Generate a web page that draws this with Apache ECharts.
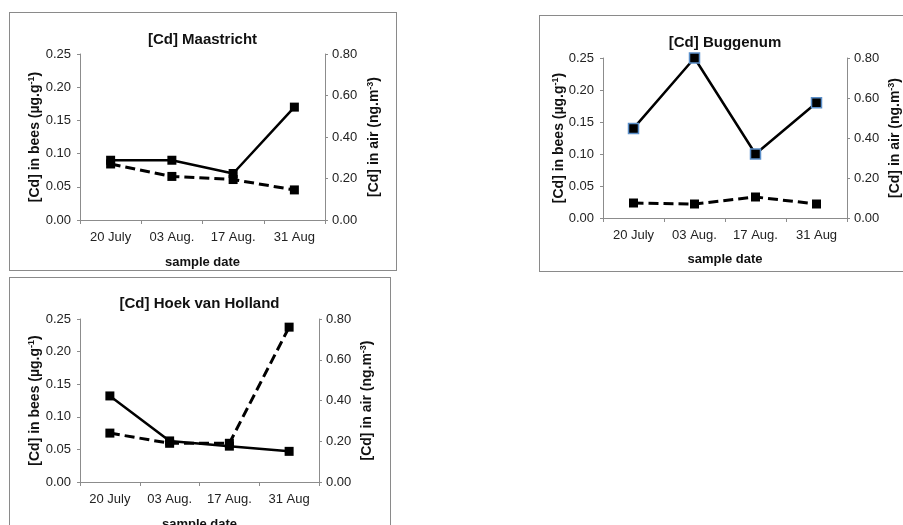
<!DOCTYPE html>
<html>
<head>
<meta charset="utf-8">
<script src="https://cdn.jsdelivr.net/npm/echarts@6/dist/echarts.min.js"></script>
<style>
  body { margin:0; background:#fff; width:903px; height:525px; position:relative; overflow:hidden; }
  .panel { position:absolute; border:1.5px solid #8a8a8a; box-sizing:border-box; background:#fff; }
</style>
</head>
<body>
<div class="panel" id="p1" style="left:9px;top:12px;width:388px;height:259px"></div>
<div class="panel" id="p2" style="left:539px;top:15px;width:366px;height:257px"></div>
<div class="panel" id="p3" style="left:9px;top:277px;width:382px;height:252px"></div>
<script>
// sample dates on the x axis
var dates = ['20 July', '03 Aug.', '17 Aug.', '31 Aug'];

// [Cd] in bees (left axis), [Cd] in air (right axis)
var maastrichtBees = [0.09, 0.09, 0.07, 0.17];
var maastrichtAir = [0.27, 0.21, 0.195, 0.145];
var buggenumBees = [0.14, 0.25, 0.10, 0.18];
var buggenumAir = [0.075, 0.07, 0.105, 0.07];
var hoekBees = [0.132, 0.063, 0.055, 0.047];
var hoekAir = [0.24, 0.19, 0.19, 0.76];

// axis ranges
var beesAxis = [0, 0.25, 0.05];
var airAxis = [0, 0.80, 0.20];

var font = "'Liberation Sans', Arial";
var axisGray = '#8c8c8c';

function makePanel(id, title, bees, air, g, blueEdge) {
    var chart = echarts.init(document.getElementById(id));
    var cx = g.left + g.width / 2;
    var rich = {
        a: { fontFamily: font, fontSize: 14, fontWeight: 'bold', color: '#111', lineHeight: 16 },
        s: { fontFamily: font, fontSize: 9, fontWeight: 'bold', color: '#111', lineHeight: 16, verticalAlign: 'top' }
    };
    var option = {
        animation: false,
        textStyle: { fontFamily: font },
        title: {
            text: title,
            left: cx, top: g.titleTop, textAlign: 'center', padding: 0,
            textStyle: { fontFamily: font, fontSize: 15, fontWeight: 'bold', color: '#111' }
        },
        grid: { left: g.left, top: g.top, width: g.width, height: g.height, containLabel: false, outerBoundsMode: 'none' },
        xAxis: {
            type: 'category',
            data: dates,
            boundaryGap: true,
            name: 'sample date',
            nameLocation: 'middle',
            nameGap: g.xNameGap,
            nameMoveOverlap: false,
            nameTextStyle: { fontFamily: font, fontSize: 13, fontWeight: 'bold', color: '#111' },
            axisLine: { lineStyle: { color: axisGray, width: 1 } },
            axisTick: { show: true, length: 4, lineStyle: { color: axisGray } },
            axisLabel: { margin: 11, fontSize: 13, color: '#222', interval: 0 },
            splitLine: { show: false }
        },
        yAxis: [
            {
                type: 'value', position: 'left',
                min: beesAxis[0], max: beesAxis[1], interval: beesAxis[2],
                name: '{a|[Cd] in bees (µg.g}{s|-1}{a|)}',
                nameLocation: 'middle', nameRotate: 90, nameGap: g.lNameGap,
                nameMoveOverlap: false,
                nameTextStyle: { rich: rich },
                axisLine: { show: true, lineStyle: { color: axisGray, width: 1 } },
                axisTick: { show: true, length: 3, lineStyle: { color: axisGray } },
                axisLabel: { margin: 9, fontSize: 13, color: '#222', formatter: function (v) { return v.toFixed(2); } },
                splitLine: { show: false }
            },
            {
                type: 'value', position: 'right',
                min: airAxis[0], max: airAxis[1], interval: airAxis[2],
                name: '{a|[Cd] in air (ng.m}{s|-3}{a|)}',
                nameLocation: 'middle', nameRotate: 90, nameGap: g.rNameGap,
                nameMoveOverlap: false,
                nameTextStyle: { rich: rich },
                axisLine: { show: true, lineStyle: { color: axisGray, width: 1 } },
                axisTick: { show: true, length: 3, lineStyle: { color: axisGray } },
                axisLabel: { margin: 7, fontSize: 13, color: '#222', formatter: function (v) { return v.toFixed(2); } },
                splitLine: { show: false }
            }
        ],
        series: [
            {
                name: 'bees', type: 'line', yAxisIndex: 0, data: bees,
                symbol: 'rect', symbolSize: blueEdge ? 10 : 9,
                lineStyle: { color: '#000', width: 2.5 },
                itemStyle: { color: '#000', borderColor: blueEdge ? '#5b8fc9' : '#000', borderWidth: blueEdge ? 1.5 : 0 },
                z: 3
            },
            {
                name: 'air', type: 'line', yAxisIndex: 1, data: air,
                symbol: 'rect', symbolSize: 9,
                lineStyle: { color: '#000', width: 3, type: [10, 5] },
                itemStyle: { color: '#000' },
                z: 2
            }
        ]
    };
    option && chart.setOption(option);
}

makePanel('p1', '[Cd] Maastricht', maastrichtBees, maastrichtAir,
    { left: 70, top: 41, width: 245, height: 166, titleTop: 19, xNameGap: 36, lNameGap: 37, rNameGap: 41 }, false);
makePanel('p2', '[Cd] Buggenum', buggenumBees, buggenumAir,
    { left: 63, top: 42, width: 244, height: 160, titleTop: 19, xNameGap: 35, lNameGap: 36, rNameGap: 40 }, true);
makePanel('p3', '[Cd] Hoek van Holland', hoekBees, hoekAir,
    { left: 70, top: 41, width: 239, height: 163, titleTop: 18, xNameGap: 36, lNameGap: 37, rNameGap: 40 }, false);
</script>
</body>
</html>
